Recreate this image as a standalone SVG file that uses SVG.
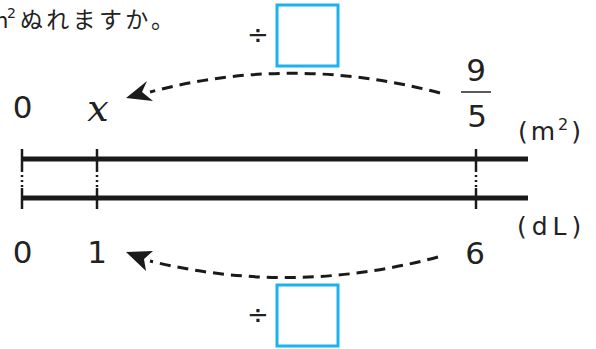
<svg xmlns="http://www.w3.org/2000/svg" width="596" height="349" viewBox="0 0 596 349">
<style>
.t{font-family:"DejaVu Sans","Liberation Sans",sans-serif;fill:#222}
.n{font-size:31px;text-anchor:middle}
.u{font-size:25px;letter-spacing:3px}
.j{font-family:"Noto Sans CJK JP","DejaVu Sans",sans-serif;font-size:23px;fill:#222;letter-spacing:3.3px}
.bar{stroke:#1a1a1a;stroke-width:5;fill:none}
.tick{stroke:#1a1a1a;stroke-width:2.5;fill:none}
.dot{stroke:#1a1a1a;stroke-width:2.5;stroke-dasharray:2 3;fill:none}
.arc{stroke:#1a1a1a;stroke-width:3;stroke-dasharray:11 7;fill:none}
.box{stroke:#1ab3ef;stroke-width:3;fill:#fff}
.ar{fill:#1a1a1a}
</style>
<g id="question">
<text class="t" x="-13" y="28" style="font-size:22px">m</text>
<text class="t" x="7" y="18" style="font-size:14px">2</text>
<text class="j" x="20" y="28">ぬれますか。</text>
</g>
<g id="connectors">
<path class="arc" d="M440,93 Q292,54 150,92"/>
<polygon class="ar" points="126,98 147,81 142,92 153,101"/>
<path class="arc" d="M438,257 Q292,296 150,261"/>
<polygon class="ar" points="126,252 153,251 144,259 146,271"/>
</g>
<g id="lines">
<line class="bar" x1="22" y1="159" x2="528" y2="159"/>
<line class="bar" x1="22" y1="198" x2="528" y2="198"/>
<line class="tick" x1="22" y1="149" x2="22" y2="172"/>
<line class="tick" x1="97" y1="149" x2="97" y2="172"/>
<line class="tick" x1="476" y1="149" x2="476" y2="172"/>
<line class="dot" x1="22" y1="175" x2="22" y2="187"/>
<line class="dot" x1="97" y1="175" x2="97" y2="187"/>
<line class="dot" x1="476" y1="175" x2="476" y2="187"/>
<line class="tick" x1="22" y1="188" x2="22" y2="209"/>
<line class="tick" x1="97" y1="188" x2="97" y2="209"/>
<line class="tick" x1="476" y1="188" x2="476" y2="209"/>
</g>
<g id="labels-top">
<text class="t n" x="22.5" y="118">0</text>
<text x="98" y="121" style="font-family:'DejaVu Serif',serif;font-style:italic;font-size:38px;fill:#222;text-anchor:middle">x</text>
<text class="t n" x="476" y="81">9</text>
<line x1="461" y1="92" x2="491" y2="92" stroke="#222" stroke-width="1.5"/>
<text class="t n" x="477" y="127">5</text>
<text class="t u" x="518" y="140">(m<tspan style="font-size:16px" dy="-10">2</tspan><tspan dy="10">)</tspan></text>
</g>
<g id="labels-bottom">
<text class="t n" x="22.5" y="263">0</text>
<text class="t n" x="97" y="263">1</text>
<text class="t n" x="475" y="264">6</text>
<text class="t u" x="517" y="235" style="letter-spacing:5px">(dL)</text>
</g>
<g id="box-top">
<text class="t" x="258" y="44" style="font-size:26px;text-anchor:middle">÷</text>
<rect class="box" x="277" y="5" width="61" height="61"/>
</g>
<g id="box-bottom">
<text class="t" x="258" y="324" style="font-size:26px;text-anchor:middle">÷</text>
<rect class="box" x="277" y="285" width="61" height="61"/>
</g>
</svg>
